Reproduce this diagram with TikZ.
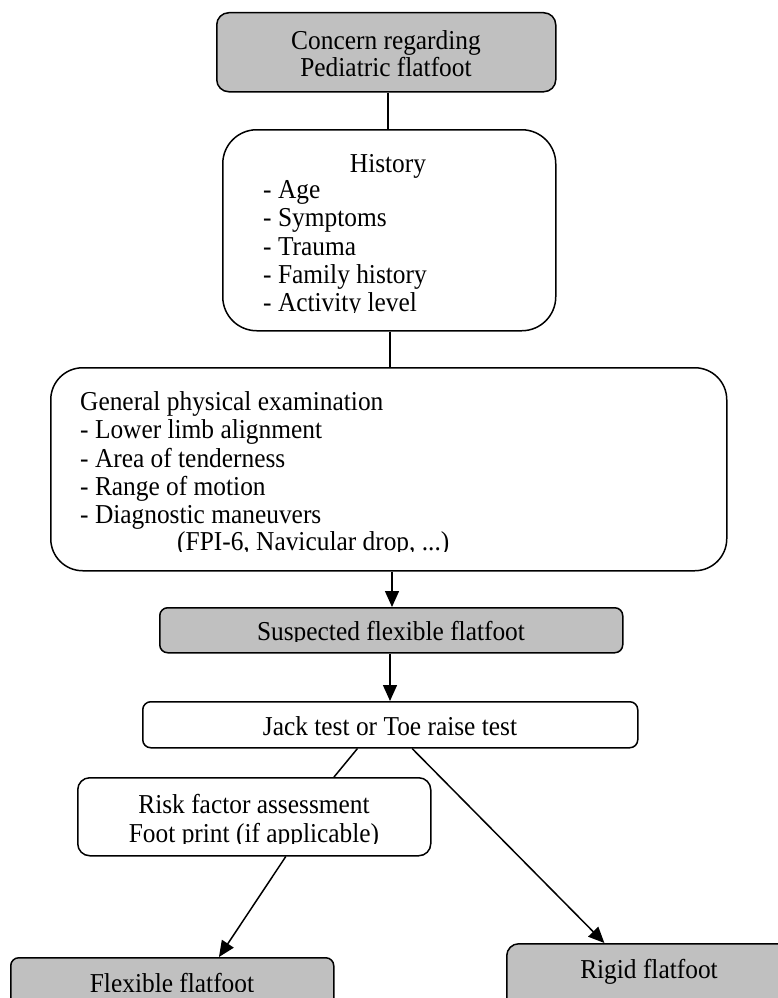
\documentclass[tikz,border=0pt]{standalone}
\usepackage{fontspec}
\setmainfont{Liberation Serif}[FakeStretch=0.93]
\usetikzlibrary{arrows.meta,calc}
\definecolor{boxgray}{HTML}{C0C0C0}
\tikzset{
  box/.style={draw=black, line width=1.5pt, rectangle, inner sep=0pt, anchor=north west},
  graybox/.style={box, fill=boxgray},
  txt/.style={font=\fontsize{27.3}{28}\selectfont, inner sep=0pt, anchor=base},
  txtl/.style={txt, anchor=base west},
  conn/.style={draw=black, line width=1.5pt},
  arr/.style={conn, -{Triangle[length=16pt,width=14pt]}},
}
\begin{document}
\begin{tikzpicture}[x=1pt,y=-1pt]
\clip (0,0) rectangle (778,998);
\fill[white] (0,0) rectangle (778,998);
% boxes
\node[graybox, rounded corners=12pt, minimum width=339pt, minimum height=79pt] (concern) at (216,12) {};
\node[box, rounded corners=34pt, minimum width=333pt, minimum height=201pt] (history) at (222,129) {};
\node[box, rounded corners=32pt, minimum width=676pt, minimum height=203pt] (general) at (50,367) {};
\node[graybox, rounded corners=8pt, minimum width=463pt, minimum height=45pt] (suspected) at (159,607) {};
\node[box, rounded corners=8pt, minimum width=495pt, minimum height=46pt] (jack) at (142,701) {};
\node[box, rounded corners=12pt, minimum width=353pt, minimum height=78pt] (risk) at (77,777) {};
\node[graybox, rounded corners=8pt, minimum width=323pt, minimum height=60pt] (flexible) at (10,957) {};
\node[graybox, rounded corners=12pt, minimum width=294pt, minimum height=70pt] (rigid) at (506,943) {};
% texts
\node[txt] (t1a) at (386,50) {Concern regarding};
\node[txt] (t1b) at (386,77) {Pediatric flatfoot};
\node[txt] (t2) at (388,172) {History};
\begin{scope}
\clip (0,0) rectangle (778,312);
\node[txtl] (t2a) at (263,198) {- Age};
\node[txtl] (t2b) at (263,226) {- Symptoms};
\node[txtl] (t2c) at (263,255) {- Trauma};
\node[txtl] (t2d) at (263,283) {- Family history};
\node[txtl] (t2e) at (263,311) {- Activity level};
\end{scope}
\begin{scope}
\clip (0,0) rectangle (778,551);
\node[txtl] (t3) at (80,410) {General physical examination};
\node[txtl] (t3a) at (80,438) {- Lower limb alignment};
\node[txtl] (t3b) at (80,467) {- Area of tenderness};
\node[txtl] (t3c) at (80,495) {- Range of motion};
\node[txtl] (t3d) at (80,523) {- Diagnostic maneuvers};
\node[txtl] (t3e) at (177,550) {(FPI-6, Navicular drop, ...)};
\end{scope}
\begin{scope}
\clip (0,0) rectangle (778,641);
\node[txt] (t4) at (391,640) {Suspected flexible flatfoot};
\end{scope}
\begin{scope}
\clip (0,0) rectangle (778,736);
\node[txt] (t5) at (390,735) {Jack test or Toe raise test};
\end{scope}
\node[txt] (t6a) at (254,813) {Risk factor assessment};
\begin{scope}
\clip (0,0) rectangle (778,843);
\node[txt] (t6b) at (254,842) {Foot print (if applicable)};
\end{scope}
\begin{scope}
\clip (0,0) rectangle (778,991);
\node[txt] (t7) at (172,992) {Flexible flatfoot};
\end{scope}
\node[txt] (t8) at (649,978) {Rigid flatfoot};
% connectors
\coordinate (xa) at (388,0);
\coordinate (xb) at (390,0);
\coordinate (xc) at (392,0);
\draw[conn] (concern.south -| xa) -- (history.north -| xa);
\draw[conn] (history.south -| xb) -- (general.north -| xb);
\draw[arr] (general.south -| xc) -- (suspected.north -| xc);
\draw[arr] (suspected.south -| xb) -- (jack.north -| xb);
\draw[conn] ($(jack.south west)!0.434!(jack.south east)$) -- ($(risk.north west)!0.725!(risk.north east)$);
\draw[arr] ($(risk.south west)!0.589!(risk.south east)$) -- ($(flexible.north west)!0.644!(flexible.north east)$);
\draw[arr] ($(jack.south west)!0.544!(jack.south east)$) -- ($(rigid.north west)!0.333!(rigid.north east)$);
\end{tikzpicture}
\end{document}
